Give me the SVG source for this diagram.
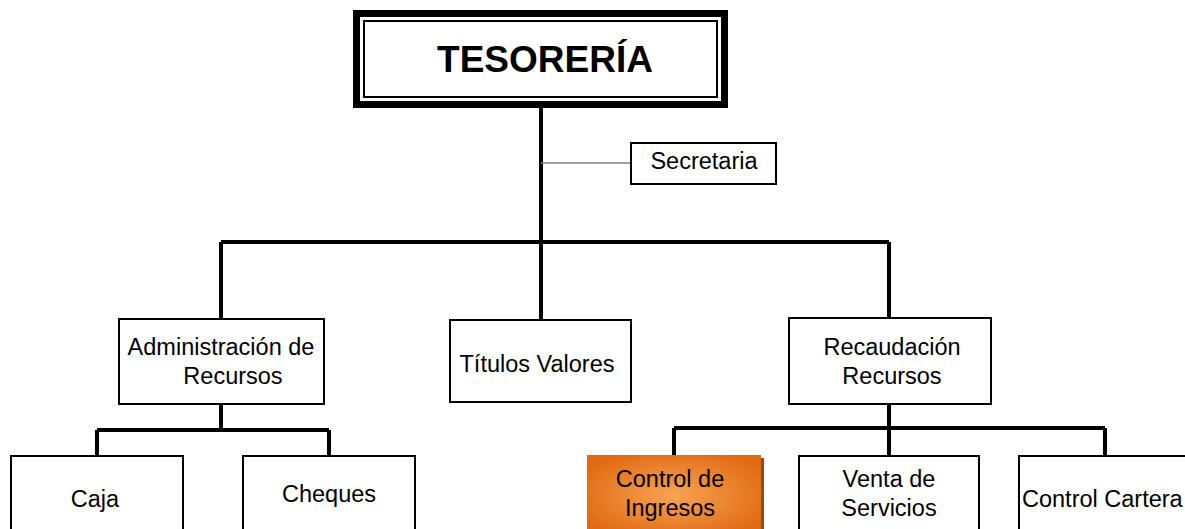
<svg xmlns="http://www.w3.org/2000/svg" width="1185" height="529" viewBox="0 0 1185 529">
<style>
.box{fill:#fff;stroke:#000;stroke-width:2}
.t{font-family:"Liberation Sans",Arial,sans-serif;font-size:23.5px;fill:#000;text-anchor:middle}
.c{fill:none;stroke:#000;stroke-width:4}
</style>
<defs>
<radialGradient id="og" cx="50%" cy="50%" r="60%">
<stop offset="0" stop-color="#f8a352"/>
<stop offset="1" stop-color="#e06a12"/>
</radialGradient>
</defs>
<rect width="1185" height="529" fill="#fff"/>
<g id="connectors">
<path class="c" d="M541 107V242M221 242H889M221 242V319M541 242V320M889 242V318"/>
<path d="M541 163H631" stroke="#808080" stroke-width="1.5" fill="none"/>
<path class="c" d="M221 404V430M97 430H329M97 430V456M329 430V456"/>
<path class="c" d="M889 404V428M674 428H1105M674 428V456M889 428V456M1105 428V456"/>
</g>
<g id="tesoreria">
<rect x="356.5" y="13.5" width="368" height="91" fill="#fff" stroke="#000" stroke-width="7"/>
<rect x="364" y="21" width="353" height="76" fill="none" stroke="#000" stroke-width="2"/>
<text x="545" y="72" class="t" style="font-size:37px;font-weight:bold">TESORERÍA</text>
</g>
<g id="secretaria">
<rect class="box" x="631" y="143" width="145" height="41"/>
<text x="704" y="169" class="t">Secretaria</text>
</g>
<g id="administracion">
<rect class="box" x="119" y="319" width="205" height="85"/>
<text x="221" y="355" class="t">Administración de</text>
<text x="233" y="384" class="t">Recursos</text>
</g>
<g id="titulos">
<rect class="box" x="450" y="320" width="181" height="82"/>
<text x="537" y="372" class="t">Títulos Valores</text>
</g>
<g id="recaudacion">
<rect class="box" x="789" y="318" width="202" height="86"/>
<text x="892" y="355" class="t">Recaudación</text>
<text x="892" y="384" class="t">Recursos</text>
</g>
<g id="caja">
<rect class="box" x="11" y="456" width="172" height="80"/>
<text x="95" y="507" class="t">Caja</text>
</g>
<g id="cheques">
<rect class="box" x="243" y="456" width="172" height="80"/>
<text x="329" y="502" class="t">Cheques</text>
</g>
<g id="control-ingresos">
<rect x="590" y="458" width="174" height="80" fill="#a0480a"/>
<rect x="587" y="455" width="174" height="80" fill="url(#og)"/>
<text x="670" y="487" class="t">Control de</text>
<text x="670" y="516" class="t">Ingresos</text>
</g>
<g id="venta">
<rect class="box" x="799" y="456" width="180" height="80"/>
<text x="889" y="487" class="t">Venta de</text>
<text x="889" y="516" class="t">Servicios</text>
</g>
<g id="control-cartera">
<rect class="box" x="1019" y="456" width="180" height="80"/>
<text x="1022" y="507" class="t" style="text-anchor:start">Control Cartera</text>
</g>
</svg>
